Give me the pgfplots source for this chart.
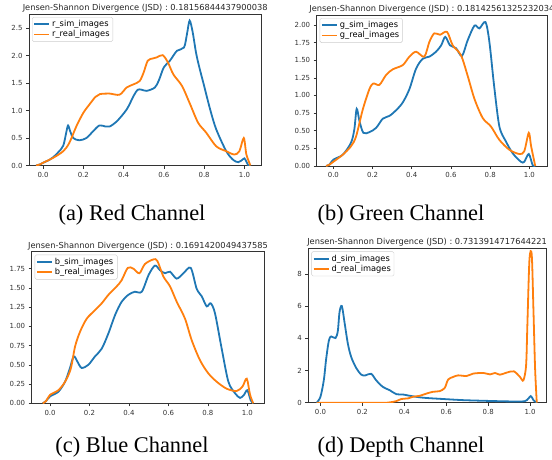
\documentclass[border=0pt]{standalone}
\usepackage{pgfplots}
\pgfplotsset{compat=1.18}
\usepackage{fontspec}
\setmainfont{Liberation Serif}
\newfontfamily\djv{DejaVu Sans}
\definecolor{mblue}{HTML}{1F77B4}
\definecolor{morange}{HTML}{FF7F0E}
\pgfplotsset{
 every axis title shift=0pt,
 jsd/.style={
   scale only axis, anchor=south west,
   axis line style={black!80, line width=0.6bp},
   xtick pos=bottom, ytick pos=left, tick align=outside,
   major tick length=3bp, tick style={black!80, line width=0.6bp},
   ymin=0,
   xtick={0,0.2,0.4,0.6,0.8,1.0},
   xticklabel style={/pgf/number format/.cd, fixed, fixed zerofill, precision=1},
   tick label style={font=\djv\fontsize{7}{8}\selectfont, text=black!80, /pgf/number format/assume math mode=true},
   title style={font=\djv\fontsize{8.3}{9}\selectfont, text=black!85, at={(0.5,1)}, anchor=base, yshift=3.5bp},
   legend style={at={(0.013,0.98)}, anchor=north west, draw=black!20, rounded corners=1.5bp, font=\djv\fontsize{8.3}{9.5}\selectfont, inner sep=1.2bp, row sep=-1.5bp, fill=white},
   legend cell align=left,
   legend image code/.code={\draw[##1, line width=1.8bp] (0bp,0bp) -- (15bp,0bp);},
   every axis plot/.append style={line width=1.8bp, smooth, no marks},
 }
}
\begin{document}
\begin{tikzpicture}
\useasboundingbox (0,0) rectangle (552bp,-460bp);
% (a) Red
\begin{axis}[jsd, at={(29bp,-165.5bp)}, width=232.5bp, height=151.5bp,
  xmin=-0.07, xmax=1.085, ymax=2.76, ytick={0,0.5,1,1.5,2,2.5},
  yticklabel style={/pgf/number format/.cd, fixed, fixed zerofill, precision=1},
  title={Jensen-Shannon Divergence (JSD) : 0.18156844437900038}]
\addplot[mblue] coordinates {(-0.035,0) (-0.015,0.02) (0,0.05) (0.03,0.1) (0.05,0.15) (0.075,0.24) (0.1,0.36) (0.115,0.6) (0.124,0.73) (0.135,0.62) (0.15,0.5) (0.18,0.46) (0.215,0.5) (0.25,0.63) (0.28,0.73) (0.31,0.71) (0.33,0.71) (0.365,0.8) (0.415,1.02) (0.45,1.27) (0.47,1.38) (0.49,1.38) (0.515,1.36) (0.555,1.42) (0.575,1.55) (0.6,1.79) (0.63,1.91) (0.665,2.09) (0.7,2.15) (0.715,2.4) (0.728,2.64) (0.743,2.43) (0.76,2.05) (0.776,1.79) (0.8,1.45) (0.83,1.02) (0.86,0.66) (0.91,0.26) (0.945,0.1) (0.97,0.06) (0.985,0.09) (1.0,0.13) (1.01,0.07) (1.02,0.0) (1.03,0)};
\addplot[morange] coordinates {(-0.035,0) (-0.015,0.02) (0,0.05) (0.05,0.14) (0.1,0.26) (0.13,0.41) (0.166,0.72) (0.2,0.96) (0.232,1.12) (0.26,1.25) (0.282,1.3) (0.33,1.31) (0.38,1.29) (0.415,1.42) (0.45,1.48) (0.48,1.54) (0.5,1.7) (0.52,1.91) (0.545,1.95) (0.565,1.97) (0.594,2.01) (0.62,1.88) (0.647,1.66) (0.69,1.45) (0.73,1.12) (0.77,0.78) (0.81,0.6) (0.86,0.35) (0.91,0.26) (0.95,0.2) (0.975,0.26) (0.997,0.5) (1.01,0.2) (1.03,0)};
\legend{r\_sim\_images, r\_real\_images}
\end{axis}
% (b) Green
\begin{axis}[jsd, at={(316.7bp,-166bp)}, width=230.3bp, height=151bp,
  xmin=-0.085, xmax=1.09, ymax=2.14, ytick={0,0.25,0.5,0.75,1,1.25,1.5,1.75,2},
  yticklabel style={/pgf/number format/.cd, fixed, fixed zerofill, precision=2},
  title={Jensen-Shannon Divergence (JSD) : 0.18142561325232034}]
\addplot[mblue] coordinates {(-0.037,0) (-0.02,0.02) (0,0.09) (0.048,0.16) (0.09,0.33) (0.107,0.52) (0.119,0.81) (0.133,0.64) (0.153,0.47) (0.184,0.48) (0.218,0.54) (0.252,0.67) (0.286,0.71) (0.32,0.79) (0.354,0.9) (0.388,1.09) (0.422,1.38) (0.456,1.52) (0.49,1.55) (0.524,1.62) (0.55,1.71) (0.571,1.83) (0.595,1.71) (0.626,1.67) (0.656,1.56) (0.685,1.78) (0.72,1.99) (0.745,1.95) (0.776,2.04) (0.796,1.76) (0.82,1.14) (0.847,0.56) (0.88,0.35) (0.915,0.18) (0.957,0.06) (0.974,0.06) (0.997,0.17) (1.017,0.01) (1.03,0)};
\addplot[morange] coordinates {(-0.037,0) (-0.02,0.02) (0,0.06) (0.048,0.16) (0.09,0.28) (0.116,0.42) (0.15,0.8) (0.184,1.09) (0.204,1.17) (0.235,1.15) (0.269,1.29) (0.303,1.37) (0.354,1.43) (0.388,1.55) (0.422,1.62) (0.464,1.55) (0.49,1.76) (0.515,1.88) (0.544,1.86) (0.58,1.9) (0.609,1.71) (0.651,1.57) (0.685,1.28) (0.72,0.95) (0.762,0.68) (0.804,0.56) (0.847,0.37) (0.898,0.23) (0.949,0.17) (0.974,0.21) (0.997,0.47) (1.009,0.28) (1.03,0)};
\legend{g\_sim\_images, g\_real\_images}
\end{axis}
% (c) Blue
\begin{axis}[jsd, at={(31.7bp,-403.3bp)}, width=232.6bp, height=151.6bp,
  xmin=-0.093, xmax=1.086, ymax=1.97, ytick={0,0.25,0.5,0.75,1,1.25,1.5,1.75},
  yticklabel style={/pgf/number format/.cd, fixed, fixed zerofill, precision=2},
  title={Jensen-Shannon Divergence (JSD) : 0.1691420049437585}]
\addplot[mblue] coordinates {(-0.037,0) (-0.02,0.03) (0,0.09) (0.042,0.15) (0.076,0.28) (0.1,0.45) (0.12,0.61) (0.139,0.54) (0.16,0.46) (0.194,0.5) (0.228,0.61) (0.262,0.71) (0.296,0.91) (0.33,1.15) (0.363,1.32) (0.397,1.41) (0.43,1.45) (0.465,1.45) (0.5,1.67) (0.532,1.79) (0.557,1.73) (0.583,1.69) (0.608,1.71) (0.642,1.62) (0.676,1.69) (0.713,1.76) (0.743,1.49) (0.769,1.39) (0.794,1.26) (0.814,1.3) (0.836,1.17) (0.87,0.71) (0.904,0.28) (0.938,0.13) (0.963,0.07) (0.983,0.11) (1.0,0.17) (1.017,0.04) (1.03,0)};
\addplot[morange] coordinates {(-0.037,0) (-0.02,0.03) (0,0.11) (0.042,0.17) (0.076,0.28) (0.105,0.45) (0.127,0.74) (0.152,0.93) (0.186,1.1) (0.228,1.21) (0.262,1.3) (0.296,1.41) (0.338,1.52) (0.363,1.6) (0.394,1.76) (0.422,1.75) (0.453,1.69) (0.481,1.81) (0.524,1.87) (0.544,1.85) (0.574,1.65) (0.608,1.52) (0.642,1.32) (0.684,1.1) (0.718,0.82) (0.76,0.56) (0.802,0.39) (0.845,0.28) (0.895,0.19) (0.946,0.16) (0.976,0.22) (0.997,0.32) (1.014,0.11) (1.03,0)};
\legend{b\_sim\_images, b\_real\_images}
\end{axis}
% (d) Depth
\begin{axis}[jsd, at={(308.3bp,-402.7bp)}, width=237.7bp, height=154.4bp,
  xmin=-0.058, xmax=1.076, ymax=9.6, ytick={0,2,4,6,8},
  title={Jensen-Shannon Divergence (JSD) : 0.7313914717644221}]
\addplot[mblue] coordinates {(-0.018,0) (0,0.37) (0.016,1.4) (0.027,2.7) (0.04,3.86) (0.051,4.12) (0.072,4.02) (0.083,4.47) (0.091,5.64) (0.102,6.01) (0.115,4.98) (0.131,3.65) (0.147,2.83) (0.171,2.15) (0.195,1.74) (0.215,1.7) (0.242,1.8) (0.266,1.39) (0.298,0.98) (0.33,0.78) (0.362,0.53) (0.394,0.51) (0.426,0.43) (0.49,0.31) (0.585,0.23) (0.68,0.16) (0.777,0.12) (0.904,0.08) (0.976,0.1) (1.003,0.41) (1.016,0.16) (1.032,0)};
\addplot[morange] coordinates {(-0.018,0) (0.1,0) (0.3,0.0) (0.33,0.02) (0.362,0.1) (0.386,0.23) (0.418,0.27) (0.442,0.37) (0.474,0.43) (0.506,0.57) (0.537,0.68) (0.569,0.72) (0.593,0.92) (0.609,1.44) (0.633,1.6) (0.657,1.7) (0.697,1.66) (0.729,1.81) (0.777,1.85) (0.809,1.76) (0.833,1.85) (0.856,1.74) (0.888,1.87) (0.923,1.95) (0.952,1.6) (0.968,1.39) (0.981,2.32) (0.987,4.78) (0.997,8.88) (1.008,9.19) (1.016,5.8) (1.024,2.11) (1.032,0)};
\legend{d\_sim\_images, d\_real\_images}
\end{axis}
\node[anchor=base, font=\fontsize{22.5}{27}\selectfont] at (132bp,-220.5bp) {(a) Red Channel};
\node[anchor=base, font=\fontsize{22.5}{27}\selectfont] at (401bp,-220.5bp) {(b) Green Channel};
\node[anchor=base, font=\fontsize{22.5}{27}\selectfont] at (132bp,-452bp) {(c) Blue Channel};
\node[anchor=base, font=\fontsize{22.5}{27}\selectfont] at (401bp,-452bp) {(d) Depth Channel};
\end{tikzpicture}
\end{document}
